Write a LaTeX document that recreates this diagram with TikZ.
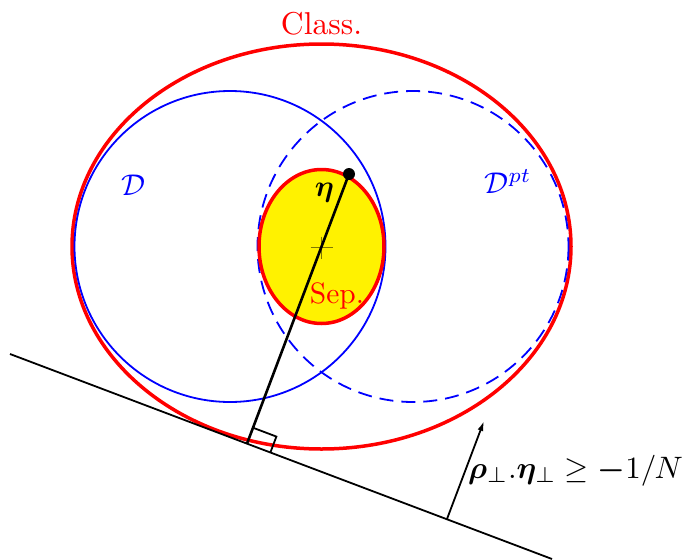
\documentclass[tikz,border=0pt]{standalone}
\usepackage{amsmath,amssymb,bm,graphicx}
\usetikzlibrary{calc,arrows.meta}
\newcommand{\sbx}[2]{\scalebox{#1}{#2}}
\begin{document}
\begin{tikzpicture}[x=1pt,y=-1pt,
  redline/.style={draw=red,line width=3.5pt},
  blueline/.style={draw=blue,line width=1.8pt},
  bluedash/.style={blueline,dash pattern=on 14pt off 8pt},
  blackline/.style={draw=black,line width=1.8pt},
  lbl/.style={inner sep=0pt,anchor=base},
]
\useasboundingbox (0,0) rectangle (689,560);
\coordinate (C) at (321.5,246.5);
\coordinate (B1) at (230,246.5);
\coordinate (B2) at (413,246.5);
\coordinate (L1) at (10,354);
\coordinate (L2) at (552,559);
% shapes
\draw[redline] (C) ellipse [x radius=249.5, y radius=202.5];
\draw[blueline] (B1) circle [radius=155.5];
\draw[bluedash] (B2) circle [radius=155.5];
\draw[redline, fill=yellow] (C) ellipse [x radius=62.5, y radius=77];
% tangent line
\draw[blackline] (L1) -- (L2);
% point eta and the perpendicular
\node[circle,fill=black,inner sep=0pt,minimum size=12pt] (eta) at (349,174) {};
\coordinate (F) at ($(L1)!(eta)!(L2)$);
\draw[black,line width=2.6pt] (eta.center) -- (F);
% right angle mark
\coordinate (P1) at ($(F)!17pt!(eta)$);
\coordinate (R1) at ($(F)!25pt!(L2)$);
\coordinate (R2) at ($(R1)+(P1)-(F)$);
\draw[blackline] (P1) -- (R2) -- (R1);
% centre cross
\draw[black,opacity=0.5,line width=1.4pt] (321.7,236.5) -- (321.7,258.5) (310.7,247.3) -- (332.7,247.3);
% arrow
\coordinate (A) at (447,519);
\coordinate (T) at (484,421);
\draw[blackline,-{Latex[length=10pt,width=6pt]}] (A) -- (T);
% labels
\node[lbl,text=red] (cls) at (321.5,34) {\sbx{3.16}{Class.}};
\node[lbl,text=red] (sep) at (337,303) {\sbx{2.95}{Sep.}};
\node[lbl,text=blue] (D) at (133,195) {\sbx{3.0}{$\mathcal{D}$}};
\node[lbl,text=blue] (Dpt) at (508,193) {\sbx{3.0}{$\mathcal{D}^{pt}$}};
\node[lbl] (etal) at (324.5,196) {\sbx{3.0}{$\bm{\eta}$}};
\node[lbl,anchor=base west] (cond) at (468,478) {\sbx{3.1}{$\bm{\rho}_{\perp}.\bm{\eta}_{\perp}\geq \bm{-}1/N$}};
\end{tikzpicture}
\end{document}
